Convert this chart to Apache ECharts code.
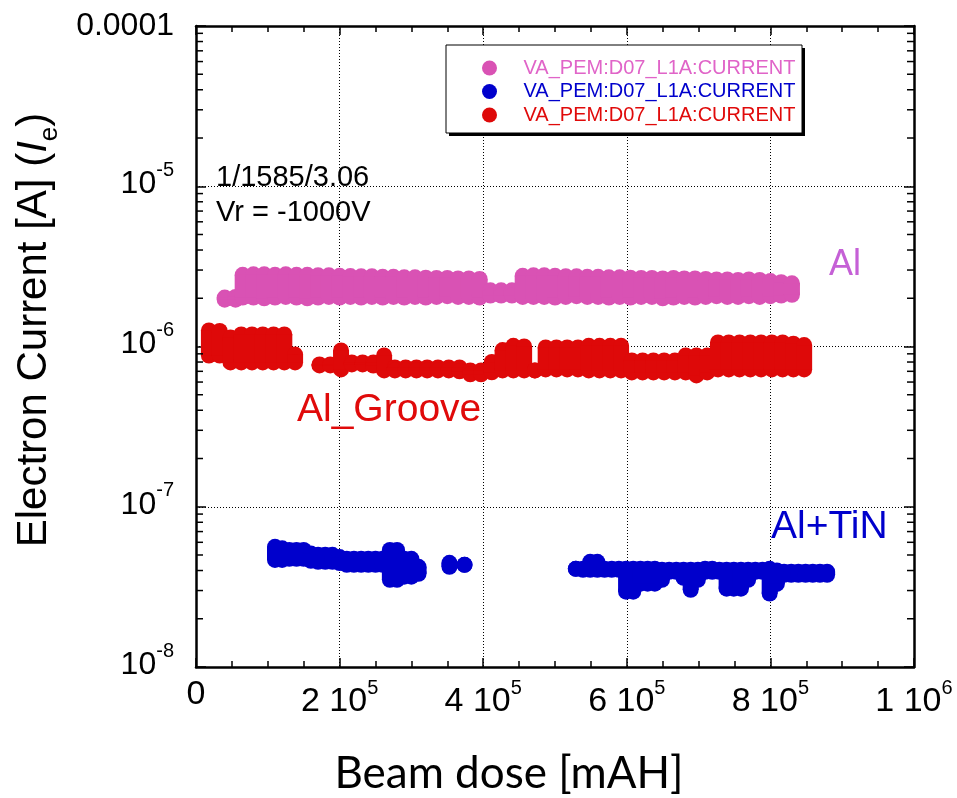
<!DOCTYPE html>
<html>
<head>
<meta charset="utf-8">
<title>Electron current vs beam dose</title>
<script src="https://cdn.jsdelivr.net/npm/echarts@6/dist/echarts.min.js"></script>
<style>
  html, body { margin: 0; padding: 0; background: #fff; }
  #chart { width: 957px; height: 798px; }
</style>
</head>
<body>
<div id="chart"></div>
<script>
// Al : each column of the band = [dose, lowest point, highest point]
const alDose = [4.0e4, 5.5e4, 6.5e4, 8.0e4, 9.5e4, 11e4, 12.5e4, 14e4, 15.5e4, 17e4,
  18.5e4, 20e4, 21.5e4, 23e4, 24.5e4, 26e4, 27.5e4, 29e4, 30.5e4, 32e4,
  33.5e4, 35e4, 36.5e4, 38e4, 39.5e4, 41e4, 42.5e4, 44e4, 45.5e4, 47e4,
  48.5e4, 50e4, 51.5e4, 53e4, 54.5e4, 56e4, 57.5e4, 59e4, 60.5e4, 62e4,
  63.5e4, 65e4, 66.5e4, 68e4, 69.5e4, 71e4, 72.5e4, 74e4, 75.5e4, 77e4,
  78.5e4, 80e4, 81.5e4, 83e4];
const alHi = [2.02e-6, 2.04e-6, 2.80e-6, 2.82e-6, 2.82e-6, 2.80e-6, 2.82e-6, 2.80e-6, 2.80e-6, 2.78e-6,
  2.78e-6, 2.76e-6, 2.75e-6, 2.74e-6, 2.74e-6, 2.72e-6, 2.72e-6, 2.70e-6, 2.70e-6, 2.69e-6,
  2.68e-6, 2.68e-6, 2.66e-6, 2.66e-6, 2.64e-6, 2.24e-6, 2.24e-6, 2.24e-6, 2.76e-6, 2.78e-6,
  2.78e-6, 2.76e-6, 2.74e-6, 2.74e-6, 2.72e-6, 2.72e-6, 2.70e-6, 2.70e-6, 2.69e-6, 2.68e-6,
  2.68e-6, 2.66e-6, 2.68e-6, 2.66e-6, 2.66e-6, 2.64e-6, 2.62e-6, 2.62e-6, 2.60e-6, 2.62e-6,
  2.60e-6, 2.56e-6, 2.52e-6, 2.48e-6];
const alLo = [1.96e-6, 1.96e-6, 2.02e-6, 2.02e-6, 2.00e-6, 2.02e-6, 2.04e-6, 2.02e-6, 2.00e-6, 2.02e-6,
  2.04e-6, 2.02e-6, 2.04e-6, 2.02e-6, 2.04e-6, 2.02e-6, 2.04e-6, 2.02e-6, 2.04e-6, 2.02e-6,
  2.04e-6, 2.06e-6, 2.04e-6, 2.04e-6, 2.02e-6, 2.08e-6, 2.08e-6, 2.08e-6, 2.04e-6, 2.04e-6,
  2.04e-6, 2.02e-6, 2.04e-6, 2.06e-6, 2.04e-6, 2.04e-6, 2.02e-6, 2.04e-6, 2.02e-6, 2.04e-6,
  2.04e-6, 2.00e-6, 2.02e-6, 2.04e-6, 2.02e-6, 2.04e-6, 2.06e-6, 2.04e-6, 2.04e-6, 2.06e-6,
  2.04e-6, 2.06e-6, 2.08e-6, 2.10e-6];

// Al_Groove
const grooveDose = [1.8e4, 3.3e4, 4.8e4, 6.3e4, 7.8e4, 9.3e4, 10.8e4, 12.3e4, 13.8e4,
  17.2e4, 18.7e4, 20.2e4, 21.7e4, 23.2e4, 24.7e4, 26.2e4, 27.7e4, 29.2e4, 30.7e4,
  32.2e4, 33.7e4, 35.2e4, 36.7e4, 38.2e4, 39.7e4, 41.2e4, 42.7e4, 44.2e4, 45.7e4,
  47.2e4, 48.7e4, 50.2e4, 51.7e4, 53.2e4, 54.7e4, 56.2e4, 57.7e4, 59.2e4, 60.7e4,
  62.2e4, 63.7e4, 65.2e4, 66.7e4, 68.2e4, 69.7e4, 71.2e4, 72.7e4, 74.2e4, 75.7e4,
  77.2e4, 78.7e4, 80.2e4, 81.7e4, 83.2e4, 84.7e4];
const grooveHi = [1.26e-6, 1.25e-6, 1.14e-6, 1.19e-6, 1.19e-6, 1.19e-6, 1.19e-6, 1.19e-6, 0.89e-6,
  0.773e-6, 0.773e-6, 0.944e-6, 0.795e-6, 0.795e-6, 0.795e-6, 0.879e-6, 0.740e-6, 0.740e-6, 0.740e-6,
  0.740e-6, 0.740e-6, 0.740e-6, 0.740e-6, 0.709e-6, 0.709e-6, 0.80e-6, 0.95e-6, 1.01e-6, 1.00e-6,
  0.709e-6, 0.986e-6, 0.986e-6, 0.986e-6, 0.986e-6, 1.01e-6, 1.01e-6, 1.01e-6, 1.01e-6, 0.818e-6,
  0.818e-6, 0.818e-6, 0.818e-6, 0.818e-6, 0.879e-6, 0.879e-6, 0.879e-6, 1.06e-6, 1.06e-6, 1.06e-6,
  1.06e-6, 1.06e-6, 1.06e-6, 1.06e-6, 1.04e-6, 1.02e-6];
const grooveLo = [0.879e-6, 0.879e-6, 0.795e-6, 0.795e-6, 0.795e-6, 0.795e-6, 0.795e-6, 0.795e-6, 0.795e-6,
  0.762e-6, 0.762e-6, 0.719e-6, 0.773e-6, 0.773e-6, 0.760e-6, 0.709e-6, 0.709e-6, 0.709e-6, 0.709e-6,
  0.709e-6, 0.709e-6, 0.709e-6, 0.700e-6, 0.670e-6, 0.670e-6, 0.690e-6, 0.709e-6, 0.709e-6, 0.709e-6,
  0.709e-6, 0.719e-6, 0.719e-6, 0.719e-6, 0.719e-6, 0.709e-6, 0.709e-6, 0.709e-6, 0.709e-6, 0.689e-6,
  0.689e-6, 0.689e-6, 0.689e-6, 0.689e-6, 0.689e-6, 0.660e-6, 0.689e-6, 0.719e-6, 0.719e-6, 0.719e-6,
  0.719e-6, 0.719e-6, 0.719e-6, 0.719e-6, 0.719e-6, 0.719e-6];

// Al+TiN
const tinDose = [11e4, 12e4, 13e4, 14e4, 15e4, 16e4, 17e4, 18e4, 19e4, 20e4,
  21e4, 22e4, 23e4, 24e4, 25e4, 26e4, 27e4, 28e4, 29e4, 30e4, 31e4,
  35.3e4, 37.4e4,
  52.9e4, 53.9e4, 54.9e4, 55.9e4, 56.9e4, 57.9e4, 58.9e4, 59.9e4, 60.9e4, 61.9e4,
  62.9e4, 63.9e4, 64.9e4, 65.9e4, 66.9e4, 67.9e4, 68.9e4, 69.9e4, 70.9e4, 71.9e4,
  72.9e4, 73.9e4, 74.9e4, 75.9e4, 76.9e4, 77.9e4, 78.9e4, 79.9e4, 80.9e4, 81.9e4,
  82.9e4, 83.9e4, 84.9e4, 85.9e4, 86.9e4, 87.9e4];
const tinHi = [5.62e-8, 5.50e-8, 5.38e-8, 5.38e-8, 5.38e-8, 5.10e-8, 5.01e-8, 5.01e-8, 5.01e-8, 4.85e-8,
  4.73e-8, 4.73e-8, 4.73e-8, 4.73e-8, 4.73e-8, 4.73e-8, 5.38e-8, 5.38e-8, 4.73e-8, 4.73e-8, 4.22e-8,
  4.47e-8, 4.34e-8,
  4.10e-8, 4.10e-8, 4.53e-8, 4.53e-8, 4.10e-8, 4.10e-8, 4.10e-8, 4.10e-8, 4.10e-8, 4.10e-8,
  4.10e-8, 4.10e-8, 4.04e-8, 4.04e-8, 4.04e-8, 4.04e-8, 4.04e-8, 4.04e-8, 4.10e-8, 4.10e-8,
  4.04e-8, 4.04e-8, 4.04e-8, 4.04e-8, 4.04e-8, 4.04e-8, 4.04e-8, 4.10e-8, 4.00e-8, 3.93e-8,
  3.93e-8, 3.93e-8, 3.93e-8, 3.93e-8, 3.93e-8, 3.93e-8];
const tinLo = [4.66e-8, 4.66e-8, 4.73e-8, 4.73e-8, 4.73e-8, 4.60e-8, 4.53e-8, 4.53e-8, 4.53e-8, 4.45e-8,
  4.34e-8, 4.34e-8, 4.34e-8, 4.34e-8, 4.34e-8, 4.34e-8, 3.50e-8, 3.50e-8, 3.66e-8, 3.66e-8, 3.82e-8,
  4.22e-8, 4.34e-8,
  4.10e-8, 4.04e-8, 4.04e-8, 4.04e-8, 4.04e-8, 4.04e-8, 4.04e-8, 2.95e-8, 2.95e-8, 3.31e-8,
  3.31e-8, 3.31e-8, 3.50e-8, 3.93e-8, 3.93e-8, 3.60e-8, 3.03e-8, 3.50e-8, 3.93e-8, 3.93e-8,
  3.93e-8, 3.08e-8, 3.08e-8, 3.08e-8, 3.50e-8, 3.93e-8, 3.93e-8, 2.87e-8, 3.30e-8, 3.76e-8,
  3.76e-8, 3.76e-8, 3.76e-8, 3.76e-8, 3.76e-8, 3.76e-8];

// log-axis minor ticks (2..9 in every decade)
const minorMantissas = [2, 3, 4, 5, 6, 7, 8, 9];
const minorDecades = [1e-8, 1e-7, 1e-6, 1e-5];

const legendText = 'VA_PEM:D07_L1A:CURRENT';
const FONT = '"Liberation Sans", Arial, sans-serif';
const DOT = 16;

function columns(dose, lo, hi) {
  return dose.map((d, i) => [d, lo[i], hi[i]]);
}

// one column of overlapping dots, drawn as a capsule from lo to hi
function renderBand(params, api) {
  const top = api.coord([api.value(0), api.value(2)]);
  const bot = api.coord([api.value(0), api.value(1)]);
  const r = DOT / 2;
  const fill = api.visual('color');
  return {
    type: 'group',
    children: [
      { type: 'circle', shape: { cx: top[0], cy: top[1], r: r }, style: { fill: fill } },
      { type: 'circle', shape: { cx: bot[0], cy: bot[1], r: r }, style: { fill: fill } },
      { type: 'rect', shape: { x: top[0] - r, y: top[1], width: DOT, height: Math.max(0, bot[1] - top[1]) }, style: { fill: fill } }
    ]
  };
}

function renderMinor(params, api) {
  const l = api.coord([0, api.value(1)]);
  const r = api.coord([1e6, api.value(1)]);
  const st = { stroke: '#000', lineWidth: 1.5 };
  return {
    type: 'group',
    children: [
      { type: 'line', shape: { x1: l[0], y1: l[1], x2: l[0] + 7, y2: l[1] }, style: st },
      { type: 'line', shape: { x1: r[0] - 7, y1: r[1], x2: r[0], y2: r[1] }, style: st }
    ]
  };
}

const minorTicks = [];
minorDecades.forEach(d => minorMantissas.forEach(m => minorTicks.push([0, m * d])));

const axisLine = { show: true, onZero: false, lineStyle: { color: '#000', width: 2.5 } };
const tickStyle = { color: '#000', width: 1.5 };

let chart = echarts.init(document.getElementById('chart'));
chart.setOption({
  animation: false,
  backgroundColor: '#fff',
  grid: { left: 196, right: 43, top: 26, bottom: 131, containLabel: false },
  legend: {
    orient: 'vertical',
    left: 482,
    top: 58,
    padding: 0,
    itemGap: 3.5,
    itemWidth: 58,
    itemHeight: 15,
    icon: 'circle',
    selectedMode: false,
    z: 10,
    formatter: () => legendText,
    textStyle: { fontFamily: FONT, fontSize: 20, lineHeight: 20 },
    data: [
      { name: 'Al', textStyle: { color: '#e064c8' } },
      { name: 'Al+TiN', textStyle: { color: '#0000cc' } },
      { name: 'Al_Groove', textStyle: { color: '#e00a0a' } }
    ]
  },
  xAxis: [
    {
      type: 'value', min: 0, max: 1e6, interval: 2e5, position: 'bottom',
      axisLine: axisLine,
      axisTick: { show: true, inside: true, length: 9, lineStyle: tickStyle },
      minorTick: { show: true, splitNumber: 4, length: 6, lineStyle: tickStyle },
      splitLine: { show: true, lineStyle: { color: '#000', width: 1, type: [1, 2] } },
      axisLabel: {
        margin: 11,
        color: '#000',
        formatter: v => {
          if (v === 0) return '{b|0}';
          const e = Math.floor(Math.log10(v) + 1e-9);
          return '{b|' + Math.round(v / Math.pow(10, e)) + ' 10}{sup|' + e + '}';
        },
        rich: {
          b: { fontFamily: FONT, fontSize: 34, lineHeight: 34, verticalAlign: 'bottom', color: '#000' },
          sup: { fontFamily: FONT, fontSize: 20, lineHeight: 41, verticalAlign: 'top', color: '#000' }
        }
      }
    },
    {
      type: 'value', min: 0, max: 1e6, interval: 2e5, position: 'top',
      axisLine: axisLine,
      axisTick: { show: true, inside: true, length: 9, lineStyle: tickStyle },
      minorTick: { show: true, splitNumber: 4, length: 6, lineStyle: tickStyle },
      splitLine: { show: false },
      axisLabel: { show: false }
    }
  ],
  yAxis: [
    {
      type: 'log', logBase: 10, min: 1e-8, max: 1e-4, position: 'left',
      axisLine: axisLine,
      axisTick: { show: true, inside: true, length: 10, lineStyle: tickStyle },
      splitLine: { show: true, lineStyle: { color: '#000', width: 1, type: [1, 2] } },
      axisLabel: {
        margin: 22,
        color: '#000',
        padding: [0, 0, 12, 0],
        formatter: v => {
          const e = Math.round(Math.log10(v));
          if (e === -4) return '{t|0.0001}';
          return '{b|10}{sup|' + e + '}';
        },
        rich: {
          t: { fontFamily: FONT, fontSize: 32, lineHeight: 44, verticalAlign: 'bottom', color: '#000' },
          b: { fontFamily: FONT, fontSize: 32, lineHeight: 32, verticalAlign: 'bottom', color: '#000' },
          sup: { fontFamily: FONT, fontSize: 20, lineHeight: 40, verticalAlign: 'top', color: '#000' }
        }
      }
    },
    {
      type: 'log', logBase: 10, min: 1e-8, max: 1e-4, position: 'right',
      axisLine: axisLine,
      axisTick: { show: true, inside: true, length: 10, lineStyle: tickStyle },
      splitLine: { show: false },
      axisLabel: { show: false }
    }
  ],
  graphic: [
    // legend frame with its hard black drop shadow
    { type: 'rect', z: 2, shape: { x: 449, y: 48, width: 356, height: 88 }, style: { fill: '#000' } },
    { type: 'rect', z: 3, shape: { x: 446, y: 45, width: 356, height: 88 }, style: { fill: '#fff', stroke: '#000', lineWidth: 1 } },
    { type: 'text', z: 3, left: 216, top: 163, style: { text: '1/1585/3.06', fontFamily: FONT, fontSize: 29, fill: '#000' } },
    { type: 'text', z: 3, left: 216, top: 198, style: { text: 'Vr = -1000V', fontFamily: FONT, fontSize: 29, fill: '#000' } },
    { type: 'text', z: 3, left: 829, top: 247, style: { text: 'Al', fontFamily: FONT, fontSize: 36, fill: '#c560d6' } },
    { type: 'text', z: 3, left: 297, top: 391, style: { text: 'Al_Groove', fontFamily: FONT, fontSize: 39, fill: '#e00a0a' } },
    { type: 'text', z: 3, left: 771, top: 508, style: { text: 'Al+TiN', fontFamily: FONT, fontSize: 39, fill: '#0000cc' } },
    // axis titles
    { type: 'text', z: 3, x: 34, y: 330, rotation: Math.PI / 2,
      style: {
        text: 'Electron Current [A] ({i|I}{s|e})', fontFamily: FONT, fontSize: 42, fill: '#000',
        align: 'center', verticalAlign: 'middle',
        rich: {
          i: { fontFamily: FONT, fontSize: 42, fontStyle: 'italic', fill: '#000' },
          s: { fontFamily: FONT, fontSize: 26, fill: '#000', verticalAlign: 'bottom', lineHeight: 58 }
        }
      } },
    { type: 'text', z: 3, x: 509, y: 774,
      style: { text: 'Beam dose [mAH]', fontFamily: 'Lato, "Open Sans", sans-serif', fontSize: 44, fill: '#000',
        align: 'center', verticalAlign: 'middle' } }
  ],
  series: [
    { name: 'Al', type: 'custom', renderItem: renderBand, itemStyle: { color: '#d952b4' },
      encode: { x: 0, y: [1, 2] }, data: columns(alDose, alLo, alHi), silent: true },
    { name: 'Al_Groove', type: 'custom', renderItem: renderBand, itemStyle: { color: '#de0909' },
      encode: { x: 0, y: [1, 2] }, data: columns(grooveDose, grooveLo, grooveHi), silent: true },
    { name: 'Al+TiN', type: 'custom', renderItem: renderBand, itemStyle: { color: '#0000cc' },
      encode: { x: 0, y: [1, 2] }, data: columns(tinDose, tinLo, tinHi), silent: true },
    { name: 'minor', type: 'custom', renderItem: renderMinor, encode: { x: 0, y: 1 },
      data: minorTicks, silent: true, z: 5 }
  ]
});
</script>
</body>
</html>
